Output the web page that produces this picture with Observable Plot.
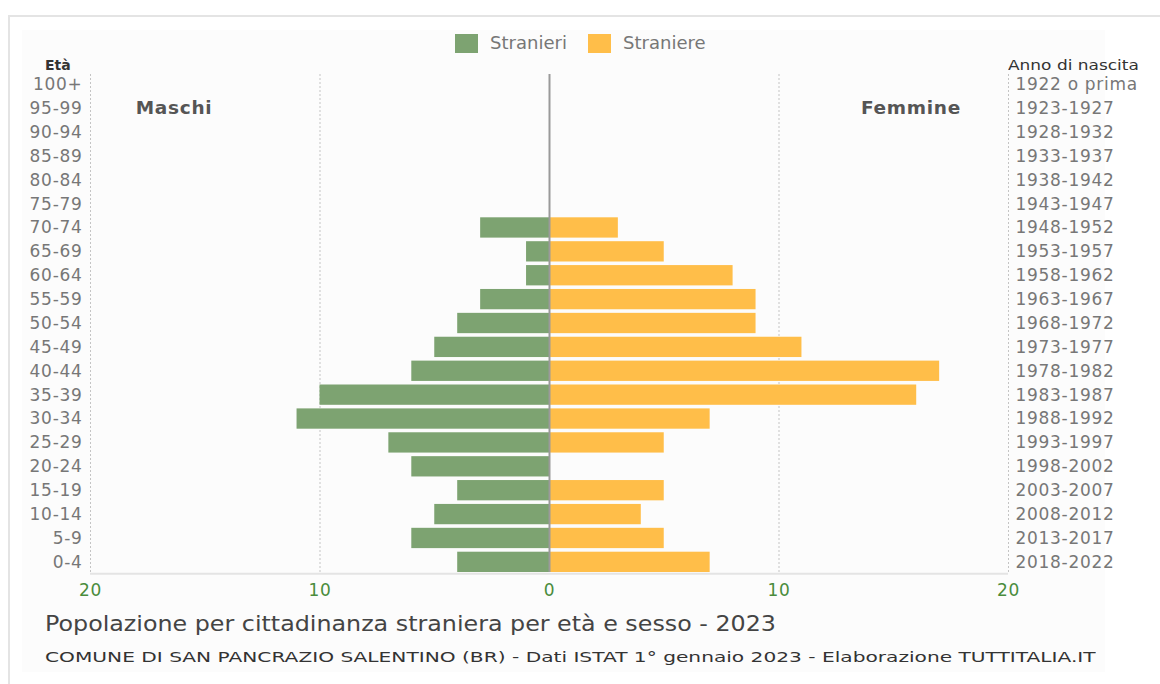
<!DOCTYPE html>
<html><head><meta charset="utf-8">
<script src="https://cdn.jsdelivr.net/npm/d3@7"></script>
<script src="https://cdn.jsdelivr.net/npm/@observablehq/plot@0.6"></script>
<style>
body{margin:0;background:#fff;font-family:"DejaVu Sans",sans-serif;width:1160px;height:684px;overflow:hidden;position:relative}
#frame{position:absolute;left:8px;top:15px;width:1170px;height:690px;border-top:2px solid #e4e4e4;border-left:2px solid #e4e4e4;background:#fff}
#inner{position:absolute;left:22px;top:30px;width:1083px;height:642px;background:#fcfcfc}
#legend{position:absolute;top:33px;left:455px;display:flex;align-items:center;font-size:17.5px;color:#777}
#legend .sw{width:23px;height:19px;display:inline-block;margin-right:12px}
#legend .it{display:flex;align-items:center;margin-right:23px}
#legend .tx{display:inline-block;transform:scaleX(1.03);transform-origin:left center}
#chart{position:absolute;left:0;top:55px}
#chart text{letter-spacing:0.7px}
.lab{position:absolute;color:#333;white-space:nowrap;transform-origin:left top}
#title{position:absolute;left:45px;top:612px;font-size:20.5px;color:#444;white-space:nowrap;transform:scaleX(1.16);transform-origin:left top}
#caption{position:absolute;left:45px;top:649px;font-size:14.5px;color:#333;white-space:nowrap;transform:scaleX(1.39);transform-origin:left top}
</style></head>
<body>
<div id="frame"></div>
<div id="inner"></div>
<div id="legend"></div>
<div id="chart"></div>
<div class="lab" style="left:45px;top:57px;font-size:14px;font-weight:bold">Età</div>
<div class="lab" style="left:1008px;top:57px;font-size:14.5px;transform:scaleX(1.17)">Anno di nascita</div>
<div id="title">Popolazione per cittadinanza straniera per età e sesso - 2023</div>
<div id="caption">COMUNE DI SAN PANCRAZIO SALENTINO (BR) - Dati ISTAT 1° gennaio 2023 - Elaborazione TUTTITALIA.IT</div>
<script>
const ages = ["100+","95-99","90-94","85-89","80-84","75-79","70-74","65-69","60-64","55-59","50-54","45-49","40-44","35-39","30-34","25-29","20-24","15-19","10-14","5-9","0-4"];
const births = ["1922 o prima","1923-1927","1928-1932","1933-1937","1938-1942","1943-1947","1948-1952","1953-1957","1958-1962","1963-1967","1968-1972","1973-1977","1978-1982","1983-1987","1988-1992","1993-1997","1998-2002","2003-2007","2008-2012","2013-2017","2018-2022"];
const males   = [0,0,0,0,0,0,3,1,1,3,4,5,6,10,11,7,6,4,5,6,4];
const females = [0,0,0,0,0,0,3,5,8,9,9,11,17,16,7,5,0,5,4,5,7];
const seriesNames = ["Stranieri","Straniere"];
const seriesColors = ["#7da371","#ffbe49"];
const xTicks = [-20,-10,0,10,20];
const sideLabels = [{t:"Maschi", x:-16.36, y:"95-99"},{t:"Femmine", x:15.75, y:"95-99"}];

const birthOf = Object.fromEntries(ages.map((a,i)=>[a,births[i]]));
const maleData = ages.map((a,i)=>({age:a, v:-males[i]}));
const femaleData = ages.map((a,i)=>({age:a, v:females[i]}));

const legend = document.getElementById("legend");
seriesNames.forEach((n,i)=>{
  const it = document.createElement("div"); it.className="it";
  it.innerHTML = `<span class="sw" style="background:${seriesColors[i]}"></span><span class="tx">${n}</span>`;
  legend.appendChild(it);
});

const chart = Plot.plot({
  width:1160, height:550,
  marginLeft:90, marginRight:152, marginTop:19, marginBottom:33,
  style:{fontFamily:"DejaVu Sans, sans-serif", background:"transparent"},
  x:{domain:[-20,20]},
  y:{domain:ages, paddingInner:0.15, paddingOuter:0, round:false},
  marks:[
    Plot.ruleX([-20,-10,10,20], {stroke:"#c4c4c4", strokeDasharray:"2,2"}),
    Plot.barX(maleData, {x:"v", y:"age", fill:seriesColors[0]}),
    Plot.barX(femaleData, {x:"v", y:"age", fill:seriesColors[1]}),
    Plot.ruleX([0], {stroke:"#9a9a9a", strokeWidth:2}),
    Plot.ruleY(["0-4"], {dy:11.5, x1:-20, x2:20, stroke:"#e4e4e4", strokeWidth:2}),
    Plot.axisY({anchor:"left", tickSize:0, tickPadding:8, fill:"#777", fontSize:17, label:null}),
    Plot.axisY({anchor:"right", tickSize:0, tickPadding:7, fill:"#777", fontSize:17, label:null, tickFormat:a=>birthOf[a]}),
    Plot.axisX({ticks:xTicks, tickFormat:d=>Math.abs(d), tickSize:0, tickPadding:11, fill:"#4a8c3c", fontSize:17, label:null}),
    Plot.text(sideLabels, {x:"x", y:"y", text:"t", fontWeight:"bold", fontSize:18.5, fill:"#555"})
  ]
});
document.getElementById("chart").appendChild(chart);
</script>
</body></html>
